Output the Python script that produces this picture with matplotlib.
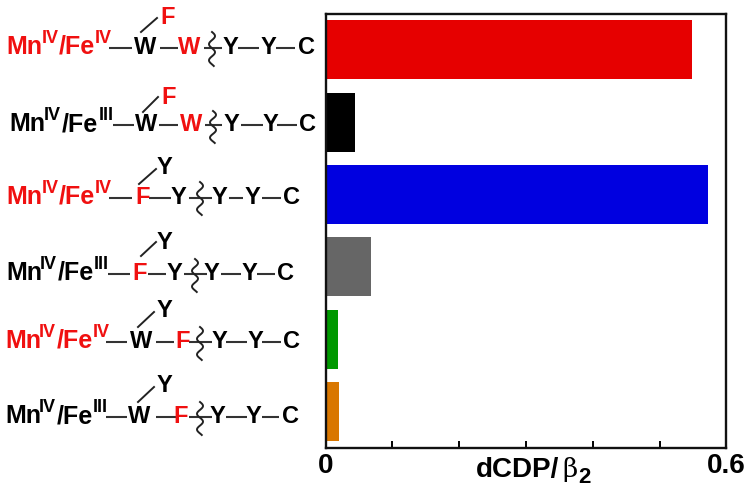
import numpy as np
import matplotlib
matplotlib.use("Agg")
import matplotlib.pyplot as plt

values = [0.548, 0.044, 0.572, 0.068, 0.018, 0.020]
bar_colors = ["#E60000", "#000000", "#0000E0", "#666666", "#009900", "#D97700"]
xtick_labels = ["0", "", "", "", "", "", "0.6"]
xlabel_text = "dCDP/"

RED = "#F01010"
BLK = "#000000"
W_PX, H_PX = 750, 489

plt.rcParams["font.family"] = ["Liberation Sans", "DejaVu Sans"]
fig = plt.figure(figsize=(W_PX / 100, H_PX / 100), dpi=100)
ax = fig.add_axes([325.5 / W_PX, 1 - 449 / H_PX, 401 / W_PX, 434.5 / H_PX])

ypos = np.arange(len(values))
ax.barh(ypos, values, height=0.815, color=bar_colors, linewidth=0)
ax.set_xlim(0, 0.6)
ax.set_ylim(5.5, -0.5)
ax.set_yticks([])
ax.set_xticks(np.arange(7) * 0.1)
ax.set_xticklabels(xtick_labels, fontsize=20, fontweight="bold")
ax.tick_params(axis="x", direction="in", length=5, width=1.4, pad=3)
for s in ax.spines.values():
    s.set_linewidth(1.7)
    s.set_color("#111111")

# overlay in pixel space for the hand-drawn schematic labels
ov = fig.add_axes([0, 0, 1, 1], facecolor="none")
ov.set_xlim(0, W_PX)
ov.set_ylim(H_PX, 0)
ov.axis("off")
ov.patch.set_alpha(0)


def t(x, y, s, c=BLK, size=17):
    ov.text(x, y, s, color=c, fontsize=size, fontweight="bold", va="baseline", ha="left")


def state(xs, y, c, fe):
    """Mn(IV)/Fe(x) prefix: xs = positions of Mn, IV, /Fe, superscript."""
    t(xs[0], y, "Mn", c, 18)
    t(xs[1], y - 11, "IV", c, 13)
    t(xs[2], y, "/Fe", c, 18)
    t(xs[3], y - 11, fe, c, 13)


def dash(x0, x1, y):
    ov.plot([x0, x1], [y - 5, y - 5], color="#333333", lw=1.5, solid_capstyle="butt")


def squiggle(x, y0, y1):
    yy = np.linspace(y0, y1, 60)
    xx = x + 3.0 * np.sin((yy - y0) / (y1 - y0) * 2 * np.pi * 2.1)
    ov.plot(xx, yy, color="#222222", lw=1.4)


rows = [
    dict(base=54, c=RED, fe="IV", st=(6, 42, 59, 95),
         res=[(134, "W", BLK), (178, "W", RED), (223, "Y", BLK), (261, "Y", BLK), (298, "C", BLK)],
         dashes=[(109, 132), (160, 178), (204, 222), (238, 259), (276, 295)],
         sq=(212, 33, 67), top=(160, 24, "F", RED), bond=(141, 33, 157, 19)),
    dict(base=131, c=BLK, fe="III", st=(9.5, 44, 62, 99),
         res=[(135, "W", BLK), (180, "W", RED), (224, "Y", BLK), (263, "Y", BLK), (299, "C", BLK)],
         dashes=[(113, 134), (159, 178), (205, 222), (241, 263), (277, 297)],
         sq=(213, 112, 144), top=(161, 104, "F", RED), bond=(143, 113, 158, 98)),
    dict(base=204, c=RED, fe="IV", st=(6, 42, 59, 95),
         res=[(135, "F", RED), (171, "Y", BLK), (212, "Y", BLK), (245, "Y", BLK), (283, "C", BLK)],
         dashes=[(109, 132), (149, 171), (189, 212), (229, 243), (262, 281)],
         sq=(200, 183, 216), top=(157, 174, "Y", BLK), bond=(139, 185, 156, 170)),
    dict(base=280, c=BLK, fe="III", st=(6, 40, 58, 94),
         res=[(132, "F", RED), (167, "Y", BLK), (204, "Y", BLK), (242, "Y", BLK), (277, "C", BLK)],
         dashes=[(108, 130), (148, 166), (184, 207), (221, 241), (257, 275)],
         sq=(195, 260, 293), top=(157, 249, "Y", BLK), bond=(141, 257, 156, 243)),
    dict(base=348, c=RED, fe="IV", st=(5, 39, 57, 93),
         res=[(130, "W", BLK), (175, "F", RED), (212, "Y", BLK), (248, "Y", BLK), (283, "C", BLK)],
         dashes=[(106, 127), (156, 174), (189, 212), (226, 247), (262, 281)],
         sq=(200, 328, 361), top=(157, 317, "Y", BLK), bond=(138, 328, 154, 313)),
    dict(base=423, c=BLK, fe="III", st=(5, 39, 57, 93),
         res=[(128, "W", BLK), (173, "F", RED), (210, "Y", BLK), (246, "Y", BLK), (282, "C", BLK)],
         dashes=[(106, 127), (156, 176), (189, 212), (226, 247), (262, 279)],
         sq=(200, 403, 436), top=(157, 392, "Y", BLK), bond=(138, 403, 154, 388)),
]

for r in rows:
    y = r["base"]
    state(r["st"], y, r["c"], r["fe"])
    for x0, x1 in r["dashes"]:
        dash(x0, x1, y)
    for x, s, c in r["res"]:
        t(x, y, s, c)
    squiggle(*r["sq"])
    tx, ty, ts, tc = r["top"]
    t(tx, ty, ts, tc)
    b = r["bond"]
    ov.plot([b[0], b[2]], [b[1], b[3]], color="#222222", lw=1.4)

# axis title
t(476, 477, xlabel_text, BLK, 20)
ov.text(562, 477, "β", color=BLK, fontsize=19, family="DejaVu Serif", va="baseline", ha="left")
t(578, 483, "2", BLK, 16)

fig.savefig("out.png", dpi=100, facecolor="white")
